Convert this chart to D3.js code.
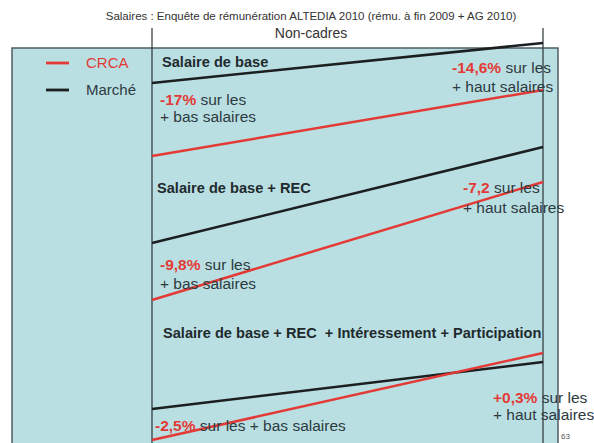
<!DOCTYPE html>
<html>
<head>
<meta charset="utf-8">
<script src="https://cdnjs.cloudflare.com/ajax/libs/d3/7.8.5/d3.min.js"></script>
<style>
  body { margin: 0; background: #fff; }
  svg { display: block; font-family: "Liberation Sans Narrow", "Liberation Sans", Arial, sans-serif; }
</style>
</head>
<body>
<svg id="chart" width="594" height="443"></svg>
<script>
// ends of each line: low salaries -> high salaries
const ends = ["bas", "haut"];
const series = ["CRCA", "Marché"];
const panels = ["Salaire de base", "Salaire de base + REC", "Salaire de base + REC  + Intéressement + Participation"];
// relative salary level (arbitrary units, no axis in the original)
const marche = [[90, 100], [50, 74], [8.5, 20.25]];
const crca = [[71.75, 88.25], [35.75, 65.25], [0.75, 22.5]];
const ecartBas = ["-17%", "-9,8%", "-2,5%"];
const ecartHaut = ["-14,6%", "-7,2", "+0,3%"];

const colors = { "CRCA": "#e33a36", "Marché": "#1c1f20" };
const textCol = "#2e3a3e";

const svg = d3.select("#chart");

let x = d3.scalePoint().domain(ends).range([152, 543]);
let y = d3.scaleLinear().domain([0, 100]).range([443, 43]);

// title
svg.append("text").attr("x", 311).attr("y", 20)
    .attr("text-anchor", "middle").attr("font-size", 11.5).attr("fill", "#333")
    .text("Salaires : Enquête de rémunération ALTEDIA 2010 (rému. à fin 2009 + AG 2010)");
svg.append("text").attr("x", 311).attr("y", 38)
    .attr("text-anchor", "middle").attr("font-size", 14).attr("fill", "#333")
    .text("Non-cadres");

// panel background
svg.append("rect").attr("x", 12).attr("y", 48).attr("width", 546).attr("height", 420)
    .attr("fill", "#b9dfe3").attr("stroke", "#4d5d61").attr("stroke-width", 1.5);

svg.append("line").attr("x1", x("bas")).attr("x2", x("bas")).attr("y1", 28).attr("y2", 443)
    .attr("stroke", "#2a3336").attr("stroke-width", 1.2);
svg.append("line").attr("x1", x("haut")).attr("x2", x("haut")).attr("y1", 28).attr("y2", 443)
    .attr("stroke", "#2a3336").attr("stroke-width", 1.2);

// legend
series.forEach((s, i) => {
    let ly = 63 + i * 27;
    svg.append("line").attr("x1", 46).attr("x2", 69).attr("y1", ly).attr("y2", ly)
        .attr("stroke", colors[s]).attr("stroke-width", 2.8);
    svg.append("text").attr("x", 86).attr("y", ly + 5).attr("font-size", 15)
        .attr("fill", s == "CRCA" ? colors[s] : textCol).text(s);
});

// lines
let line = d3.line().x((d, i) => x(ends[i])).y(d => y(d));
let lineData = [];
panels.forEach((p, i) => {
    lineData.push({ s: "Marché", v: marche[i] });
    lineData.push({ s: "CRCA", v: crca[i] });
});
svg.append("g").selectAll("path").data(lineData).enter().append("path")
    .attr("d", d => line(d.v))
    .attr("fill", "none")
    .attr("stroke", d => colors[d.s])
    .attr("stroke-width", 2.5);

// panel titles
const titlePos = [[162, 67], [157, 193], [163, 338]];
svg.append("g").selectAll("text").data(panels).enter().append("text")
    .attr("x", (d, i) => titlePos[i][0]).attr("y", (d, i) => titlePos[i][1])
    .attr("font-size", 14.6).attr("font-weight", "bold").attr("fill", "#1f2a2d")
    .style("white-space", "pre")
    .text(d => d);

// annotations
function note(px, py, pct, l1, l2, gap) {
    let t = svg.append("text").attr("x", px).attr("y", py).attr("font-size", 15.5).attr("fill", textCol);
    t.append("tspan").attr("fill", "#e33a36").attr("font-weight", "bold").text(pct);
    t.append("tspan").text(" " + l1);
    if (l2) {
        svg.append("text").attr("x", px).attr("y", py + gap).attr("font-size", 15.5)
            .attr("fill", textCol).text(l2);
    }
}
note(160, 105, ecartBas[0], "sur les", "+ bas salaires", 17);
note(452, 73, ecartHaut[0], "sur les", "+ haut salaires", 19);
note(160, 270, ecartBas[1], "sur les", "+ bas salaires", 19);
note(463, 193, ecartHaut[1], "sur les", "+ haut salaires", 20);
note(155, 431, ecartBas[2], "sur les + bas salaires", null, 0);
note(493, 403, ecartHaut[2], "sur les", "+ haut salaires", 17);

svg.append("text").attr("x", 561).attr("y", 439).attr("font-size", 8).attr("fill", "#555").text("63");
</script>
</body>
</html>
